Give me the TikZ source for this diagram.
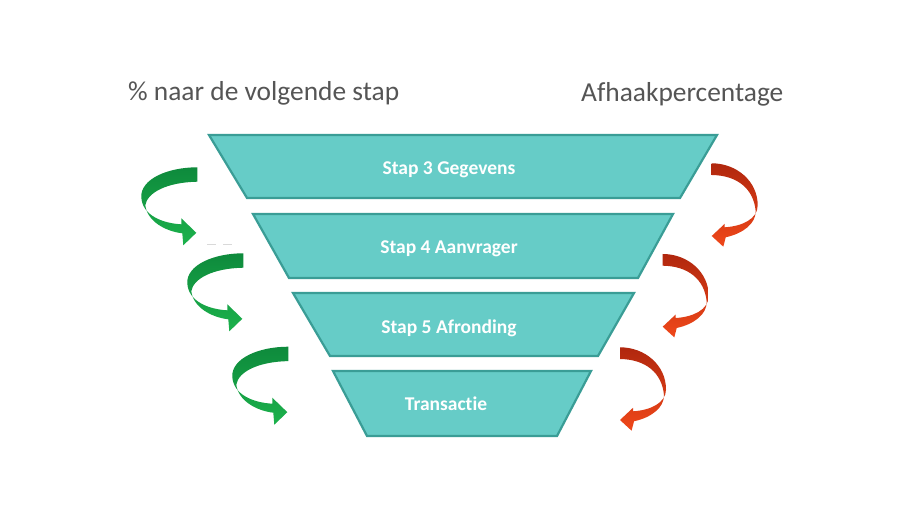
\documentclass[tikz,border=0pt]{standalone}
\usepackage{fontspec}
\setmainfont{Carlito}[Ligatures=NoCommon]
\definecolor{funnelfill}{HTML}{66CCC7}
\definecolor{funneledge}{HTML}{3A9D96}
\definecolor{headgray}{HTML}{555555}
\definecolor{gdark}{HTML}{0E8A3C}
\definecolor{glight}{HTML}{1CB24C}
\definecolor{rdark}{HTML}{B0270E}
\definecolor{rlight}{HTML}{F0481A}
\begin{document}
\begin{tikzpicture}[x=1pt,y=-1pt,
  stage/.style={fill=funnelfill, draw=funneledge, line width=2.2pt, line join=miter},
  stagetext/.style={text=white, font=\fontsize{19.5}{22}\selectfont\bfseries, anchor=base, inner sep=0pt},
  header/.style={text=headgray, font=\fontsize{27.4}{30}\selectfont, anchor=base west, inner sep=0pt},
  greenarrow/.pic={\shade[top color=gdark, bottom color=glight]
     (0,0) .. controls (-30,0) and (-57,12) .. (-56,30)
     .. controls (-55,48) and (-35,56) .. (-16,57)
     -- (-16,51) -- (-1,65.5) -- (-14,78) -- (-15,66)
     .. controls (-32,64) and (-50,54) .. (-52,38)
     .. controls (-50,25) and (-30,15) .. (0,14.4) -- cycle;},
  redarrow/.pic={\shade[top color=rdark, bottom color=rlight]
     (0,0) .. controls (25,0) and (46,18) .. (46,42)
     .. controls (46,56) and (30,63) .. (13,64)
     -- (13,60.5) -- (0,72.7) -- (11.6,83.4) -- (14,74)
     .. controls (32,70) and (44,60) .. (44,48)
     .. controls (42,25) and (25,12) .. (0,11.7) -- cycle;}]
\useasboundingbox (0,0) rectangle (920,518);
\fill[white] (0,0) rectangle (920,518);

% headers
\node[header] (hleft) at (128,100.5) {\% naar de volgende stap};
\node[header] (hright) at (581,102) {Afhaakpercentage};

% funnel stages
\draw[stage] (209,135) -- (717,135) -- (680,198) -- (247,198) -- cycle;
\draw[stage] (253,214) -- (673,214) -- (638,278) -- (289,278) -- cycle;
\draw[stage] (293,293) -- (634,293) -- (598,356) -- (330,356) -- cycle;
\draw[stage] (333,371) -- (591,371) -- (557,436) -- (367,436) -- cycle;

\node[stagetext] (s3) at (449,175) {Stap 3 Gegevens};
\node[stagetext] (s4) at (449,253.5) {Stap 4 Aanvrager};
\node[stagetext] (s5) at (449,334) {Stap 5 Afronding};
\node[stagetext] (s6) at (446,410) {Transactie};

% green curved arrows
\pic at (197.3,167.3) {greenarrow};
\pic at (243.3,253.3) {greenarrow};
\pic at (288.3,346.7) {greenarrow};

% red curved arrows
\pic at (711.7,163.3) {redarrow};
\pic at (662.7,254) {redarrow};
\pic at (620,347.3) {redarrow};

% faint marks
\draw[black!15, line width=1pt] (207,245) -- (216,245) (223,245) -- (232,245);
\end{tikzpicture}
\end{document}
